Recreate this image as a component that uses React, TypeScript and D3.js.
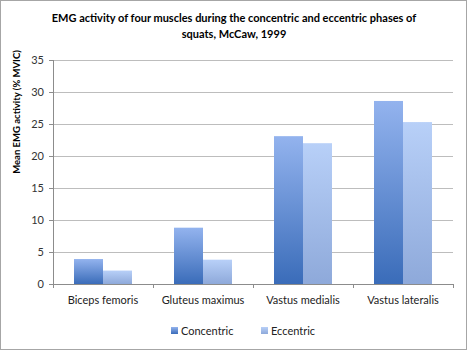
import React from 'react';
import * as d3 from 'd3';

const MUSCLES = ["Biceps femoris", "Gluteus maximus", "Vastus medialis", "Vastus lateralis"];
const CONCENTRIC = [3.9, 8.8, 23.1, 28.6];
const ECCENTRIC = [2.1, 3.8, 22.0, 25.3];
const SERIES = ["Concentric", "Eccentric"];
const Y_TICKS = [0, 5, 10, 15, 20, 25, 30, 35];

const W = 468;
const H = 352;
const margin = { top: 60, right: 15, bottom: 68, left: 53 };
const FONT = "Lato, 'Open Sans', sans-serif";

export default function App() {
    const innerW = W - margin.left - margin.right;
    const innerH = H - margin.top - margin.bottom;

    const x0 = d3.scaleBand().domain(MUSCLES).range([0, innerW]).paddingInner(0).paddingOuter(0);
    const barW = 29;
    const x1 = d3.scaleBand().domain(SERIES).range([0, barW * 2]);
    const y = d3.scaleLinear().domain([0, 35]).range([innerH, 0]);

    const values = [CONCENTRIC, ECCENTRIC];
    const groupOffset = (x0.bandwidth() - barW * 2) / 2;

    return (
        <svg width={W} height={H} style={{ position: 'absolute', left: 0, top: 0, background: '#fff' }}>
            <defs>
                <linearGradient id="gradC" x1="0" y1="0" x2="0" y2="1">
                    <stop offset="0%" stopColor="#93b3ee" />
                    <stop offset="100%" stopColor="#3a6cb9" />
                </linearGradient>
                <linearGradient id="gradE" x1="0" y1="0" x2="0" y2="1">
                    <stop offset="0%" stopColor="#b8d0f8" />
                    <stop offset="100%" stopColor="#8ea9da" />
                </linearGradient>
            </defs>
            <rect x={0.5} y={0.5} width={466} height={349} fill="#fff" stroke="#a6a6a6" />

            <text x={234} y={22} textAnchor="middle" fontFamily={FONT} fontWeight="bold" fontSize={11} fill="#000">
                EMG activity of four muscles during the concentric and eccentric phases of
            </text>
            <text x={234} y={38} textAnchor="middle" fontFamily={FONT} fontWeight="bold" fontSize={11} fill="#000">
                squats, McCaw, 1999
            </text>

            <text transform={`translate(20, ${margin.top + 52}) rotate(-90)`} textAnchor="middle"
                fontFamily={FONT} fontWeight="bold" fontSize={9.5} fill="#000">
                Mean EMG activity (% MVIC)
            </text>

            <g transform={`translate(${margin.left}, ${margin.top})`}>
                {Y_TICKS.map(t => (
                    <g key={t}>
                        {t > 0 && <line x1={0} x2={innerW} y1={Math.round(y(t)) + 0.5} y2={Math.round(y(t)) + 0.5} stroke="#bdbdbd" />}
                        <line x1={-4} x2={0} y1={Math.round(y(t)) + 0.5} y2={Math.round(y(t)) + 0.5} stroke="#8c8c8c" />
                        <text x={-9} y={y(t)} dy="0.35em" textAnchor="end" fontFamily={FONT} fontSize={11} fill="#333">{t}</text>
                    </g>
                ))}

                {MUSCLES.map((m, i) => (
                    <g key={m} transform={`translate(${x0(m)! + groupOffset}, 0)`}>
                        {SERIES.map((s, j) => (
                            <rect key={s}
                                x={x1(s)!}
                                y={y(values[j][i])}
                                width={x1.bandwidth()}
                                height={innerH - y(values[j][i])}
                                fill={j === 0 ? "url(#gradC)" : "url(#gradE)"} />
                        ))}
                    </g>
                ))}

                <line x1={0.5} x2={0.5} y1={0} y2={innerH} stroke="#8c8c8c" />
                <line x1={0} x2={innerW} y1={innerH + 0.5} y2={innerH + 0.5} stroke="#8c8c8c" />
                {d3.range(MUSCLES.length + 1).map(k => (
                    <line key={k} x1={k * x0.bandwidth() + 0.5} x2={k * x0.bandwidth() + 0.5}
                        y1={innerH} y2={innerH + 4} stroke="#8c8c8c" />
                ))}
                {MUSCLES.map(m => (
                    <text key={m} x={x0(m)! + x0.bandwidth() / 2} y={innerH + 20} textAnchor="middle"
                        fontFamily={FONT} fontSize={11} fill="#222">{m}</text>
                ))}
            </g>

            <g transform="translate(171, 327)">
                <rect x={0} y={0} width={7} height={7} fill="url(#gradC)" />
                <text x={10} y={4} dy="0.35em" fontFamily={FONT} fontSize={11} fill="#222">Concentric</text>
                <rect x={90} y={0} width={7} height={7} fill="url(#gradE)" />
                <text x={100} y={4} dy="0.35em" fontFamily={FONT} fontSize={11} fill="#222">Eccentric</text>
            </g>
        </svg>
    );
}
